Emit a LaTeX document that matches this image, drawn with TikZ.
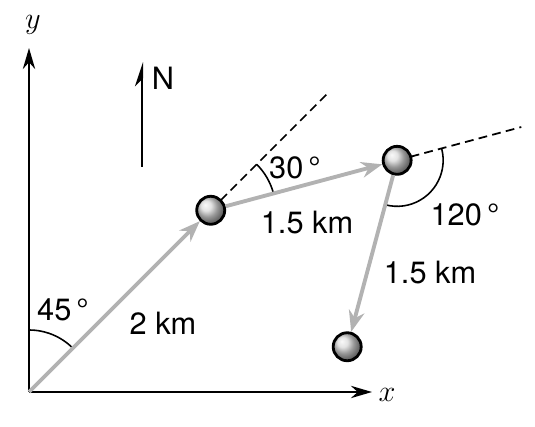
\documentclass[tikz,border=0pt]{standalone}
\usepackage{fontspec}
\setmainfont{TeX Gyre Heros}
\usepackage{amsmath}
\usetikzlibrary{calc,angles,quotes,arrows.meta}

\begin{document}
\begin{tikzpicture}[
        ball/.style={circle, draw, line width=1.6pt, minimum size=0.56cm, inner sep=0pt, ball color=gray!30},
        vec/.style={gray!60, line width=2.2pt, -{Stealth[length=12pt,width=9pt]}},
        axis/.style={line width=1.2pt, -{Stealth[length=12pt,width=7pt]}},
        ext/.style={line width=1pt, dash pattern=on 5pt off 3pt},
        lbl/.style={font=\fontsize{17.5}{20}\selectfont}
    ]
        \useasboundingbox (-0.58,-0.70) rectangle (10.12,7.84);

        \coordinate (o) at (0,0);
        \coordinate (a) at (45:5.14);
        \coordinate (b) at ($(a)+(15:3.86)$);
        \coordinate (c) at ($(b)+(-105:3.86)$);
        \coordinate (ytip) at (0,6.88);
        \coordinate (xtip) at (6.86,0);
        \coordinate (da) at ($(a)+(45:3.3)$);
        \coordinate (db) at ($(b)+(15:2.57)$);
        \coordinate (ns) at (2.26,4.5);
        \coordinate (nn) at (2.26,6.6);

        \draw[axis] (o) -- (ytip);
        \draw[axis] (o) -- (xtip);
        \node[lbl] (ylab) at (0.08,7.34) {$y$};
        \node[lbl] (xlab) at (7.16,-0.06) {$x$};

        \draw[line width=1.2pt, -{Stealth[harpoon,length=12pt,width=8pt]}] (ns) -- (nn);
        \node[lbl] (north) at (2.68,6.28) {N};

        \draw[ext] (a) -- (da);
        \draw[ext] (b) -- (db);

        \pic [draw, line width=0.9pt, angle radius=1.24cm] {angle = a--o--ytip};
        \pic [draw, line width=0.9pt, angle radius=1.3cm] {angle = b--a--da};
        \pic [draw, line width=0.9pt, angle radius=0.92cm] {angle = c--b--db};

        \node[ball] (ballA) at (a) {};
        \node[ball] (ballB) at (b) {};
        \node[ball] (ballC) at (c) {};

        \draw[vec] (o) -- (ballA);
        \draw[vec] (ballA) -- (ballB);
        \draw[vec] (ballB) -- (ballC);

        \node[lbl] (ang1) at (0.68,1.64) {45\,°};
        \node[lbl] (len1) at (2.68,1.38) {2 km};
        \node[lbl] (ang2) at (5.32,4.48) {30\,°};
        \node[lbl] (len2) at (5.56,3.38) {1.5 km};
        \node[lbl] (ang3) at (8.72,3.54) {120\,°};
        \node[lbl] (len3) at (8.02,2.38) {1.5 km};
    \end{tikzpicture}
\end{document}
